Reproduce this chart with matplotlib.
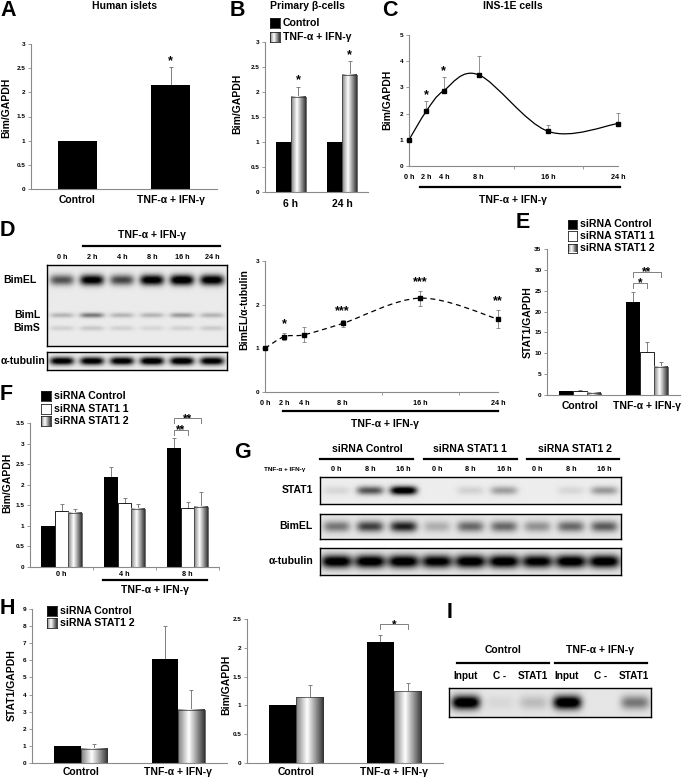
import numpy as np
import matplotlib
matplotlib.use('Agg')
import matplotlib.pyplot as plt
from matplotlib.path import Path
from matplotlib.patches import PathPatch
from matplotlib.lines import Line2D

plt.rcParams['font.family'] = ['Liberation Sans', 'DejaVu Sans']
plt.rcParams['font.weight'] = 'bold'

# ---------------- data ----------------
# A
a_groups = ['Control', 'TNF-α + IFN-γ']
a_vals = [1.0, 2.15]
a_errs = [0.0, 0.38]
a_stars = ['', '*']

# B
b_groups = ['6 h', '24 h']
b_series = ['Control', 'TNF-α + IFN-γ']
b_control = [1.0, 1.0]
b_tnf = [1.91, 2.35]
b_tnf_err = [0.2, 0.26]
b_stars = ['*', '*']

# C
c_hours = [0, 2, 4, 8, 16, 24]
c_vals = [1.0, 2.1, 2.88, 3.48, 1.32, 1.62]
c_errs = [0.0, 0.4, 0.52, 0.72, 0.26, 0.4]
c_stars = ['', '*', '*', '', '', '']
c_ticklabels = ['0 h', '2 h', '4 h', '8 h', '16 h', '24 h']

# D
d_lanes = ['0 h', '2 h', '4 h', '8 h', '16 h', '24 h']
d_bimel = [0.55, 0.92, 0.6, 0.95, 1.0, 0.95]
d_biml = [0.2, 0.42, 0.2, 0.2, 0.3, 0.2]
d_bims = [0.1, 0.13, 0.1, 0.08, 0.1, 0.12]
d_tubulin = [0.95, 0.95, 0.95, 1.0, 1.0, 0.95]
d_hours = [0, 2, 4, 8, 16, 24]
d_vals = [1.0, 1.27, 1.31, 1.57, 2.15, 1.67]
d_errs = [0.0, 0.09, 0.17, 0.07, 0.17, 0.2]
d_stars = ['', '*', '', '***', '***', '**']

# E
e_groups = ['Control', 'TNF-α + IFN-γ']
sirna3 = ['siRNA Control', 'siRNA STAT1 1', 'siRNA STAT1 2']
e_ctrl = [1.0, 22.2]
e_s1 = [1.0, 10.4]
e_s2 = [0.5, 6.8]
e_ctrl_err = [0.0, 2.6]
e_s1_err = [0.2, 2.4]
e_s2_err = [0.0, 1.2]

# F
f_groups = ['0 h', '4 h', '8 h']
f_ctrl = [1.0, 2.19, 2.89]
f_s1 = [1.37, 1.56, 1.44]
f_s2 = [1.32, 1.42, 1.47]
f_ctrl_err = [0.0, 0.25, 0.24]
f_s1_err = [0.16, 0.11, 0.15]
f_s2_err = [0.1, 0.12, 0.36]

# G
g_groups = sirna3
g_lanes = ['0 h', '8 h', '16 h'] * 3
g_stat1 = [0.08, 0.55, 1.0, 0.0, 0.1, 0.28, 0.0, 0.08, 0.3]
g_bimel = [0.4, 0.6, 0.72, 0.2, 0.45, 0.45, 0.3, 0.45, 0.5]
g_tub = [0.95, 0.95, 0.95, 0.9, 0.95, 0.95, 0.9, 0.95, 0.95]

# H
h_groups = ['Control', 'TNF-α + IFN-γ']
h_series = ['siRNA Control', 'siRNA STAT1 2']
h_stat1_ctrl = [1.0, 6.1]
h_stat1_s2 = [0.83, 3.12]
h_stat1_ctrl_err = [0.0, 1.9]
h_stat1_s2_err = [0.27, 1.13]
h_bim_ctrl = [1.0, 2.1]
h_bim_s2 = [1.14, 1.25]
h_bim_ctrl_err = [0.0, 0.12]
h_bim_s2_err = [0.21, 0.14]

# I
i_groups = ['Control', 'TNF-α + IFN-γ']
i_lanes = ['Input', 'C -', 'STAT1', 'Input', 'C -', 'STAT1']
i_band = [1.0, 0.05, 0.15, 1.0, 0.0, 0.4]

TREAT = 'TNF-α + IFN-γ'

# ---------------- helpers ----------------
W, H = 685, 779
fig = plt.figure(figsize=(W / 100, H / 100), dpi=100)
fig.patch.set_facecolor('white')

GRAD = np.interp(np.linspace(0, 1, 64), [0, 0.4, 1], [0.5, 1.0, 0.2])[None, :]
AX_COL = '#8a8a8a'
ERR_COL = '#808080'
FS = 7.5      # labels
FS_Y = 7.5    # axis titles
FS_LEG = 7.6  # legends


def add_ax(l, t, r, b):
    return fig.add_axes([l / W, 1 - b / H, (r - l) / W, (b - t) / H])


def ftext(x, y, s, **kw):
    kw.setdefault('ha', 'center')
    kw.setdefault('va', 'center')
    fig.text(x / W, 1 - y / H, s, **kw)


def fline(x0, x1, y, lw=1.6, color='black'):
    fig.add_artist(Line2D([x0 / W, x1 / W], [1 - y / H] * 2, transform=fig.transFigure,
                          color=color, lw=lw))


def letter(x, y, s):
    ftext(x, y, s, ha='left', fontsize=15.5)


def style_axes(ax, ylim, yticks):
    ax.set_ylim(*ylim)
    ax.set_yticks(yticks, [f'{t:g}' for t in yticks])
    for s in ['top', 'right']:
        ax.spines[s].set_visible(False)
    for s in ['left', 'bottom']:
        ax.spines[s].set_color(AX_COL)
        ax.spines[s].set_linewidth(0.8)
    ax.tick_params(axis='y', labelsize=4.6, length=2.5, width=0.6, color=AX_COL, pad=1.5)
    ax.set_facecolor('none')


def draw_bar(ax, x, h, w, kind):
    if kind == 'black':
        ax.bar(x, h, w, color='black', zorder=2)
    elif kind == 'white':
        ax.bar(x, h, w, color='white', edgecolor='black', lw=0.6, zorder=2)
    else:
        ax.imshow(GRAD, extent=(x - w / 2, x + w / 2, 0, h), aspect='auto', cmap='gray',
                  vmin=0, vmax=1, zorder=2, interpolation='bilinear')
        ax.bar(x, h, w, fill=False, edgecolor='#333333', lw=0.5, zorder=3)


def bars(ax, series, errs, kinds, width):
    n = len(series)
    for j, (vals, ee, kind) in enumerate(zip(series, errs, kinds)):
        off = (j - (n - 1) / 2) * width
        for i, (v, e) in enumerate(zip(vals, ee)):
            draw_bar(ax, i + off, v, width, kind)
            if e > 0:
                ax.errorbar(i + off, v, yerr=[[0], [e]], fmt='none', ecolor=ERR_COL,
                            elinewidth=0.7, capsize=1.2, capthick=0.7, zorder=1)


def cat_xaxis(ax, labels, fs=FS, pad=4):
    ax.set_xticks(range(len(labels)), labels)
    ax.tick_params(axis='x', length=0, labelsize=fs, pad=pad)
    ax.set_xlim(-0.5, len(labels) - 0.5)


def bracket(ax, x1, x2, y, drop, txt, fs=8.5):
    ax.plot([x1, x1, x2, x2], [y - drop, y, y, y - drop], color=ERR_COL, lw=0.7,
            clip_on=False, zorder=4)
    ax.annotate(txt, ((x1 + x2) / 2, y), xytext=(0, -2.6), textcoords='offset points',
                ha='center', va='baseline', fontsize=fs, annotation_clip=False)


def legend(x, ys, kinds, labels, size=10, fs=FS_LEG):
    for y, k, lab in zip(ys, kinds, labels):
        a = add_ax(x, y - size / 2, x + size, y + size / 2)
        a.set_xticks([])
        a.set_yticks([])
        if k == 'grad':
            a.imshow(GRAD, aspect='auto', cmap='gray', vmin=0, vmax=1, interpolation='bilinear')
        else:
            a.set_facecolor(k)
        for s in a.spines.values():
            s.set_linewidth(0.6)
            s.set_color('#222222')
        ftext(x + size + 3, y, lab, ha='left', fontsize=fs)


def smooth_curve(ax, xs, ys, **kw):
    p = np.column_stack([xs, ys]).astype(float)
    n = len(p)
    verts = [p[0]]
    codes = [Path.MOVETO]
    for i in range(n - 1):
        p0 = p[max(i - 1, 0)]
        p1 = p[i]
        p2 = p[i + 1]
        p3 = p[min(i + 2, n - 1)]
        verts += [p1 + (p2 - p0) / 6, p2 - (p3 - p1) / 6, p2]
        codes += [Path.CURVE4] * 3
    ax.add_patch(PathPatch(Path(verts, codes), fill=False, **kw))


def blot(l, t, r, b, bands, bg=0.92, lane_half=0.4):
    """bands: (centre measured from the top as a fraction, thickness, lane intensities)"""
    ax = add_ax(l, t, r, b)
    n = len(bands[0][2])
    ny, nx = 80, n * 40
    xs = (np.arange(nx) + 0.5) / nx * n
    ys = (np.arange(ny) + 0.5) / ny
    dark = np.zeros((ny, nx))
    for yc, sy, ints in bands:
        prof_y = np.exp(-((ys - yc) / sy) ** 2)
        for i, a in enumerate(ints):
            prof_x = np.exp(-((xs - (i + 0.5)) / lane_half) ** 4)
            dark += a * np.outer(prof_y, prof_x)
    img = np.clip(bg - dark * 1.1, 0, 1)
    ax.imshow(img, extent=(0, n, 0, 1), origin='upper', aspect='auto', cmap='gray',
              vmin=0, vmax=1, interpolation='bilinear')
    ax.set_xlim(0, n)
    ax.set_ylim(0, 1)
    ax.set_xticks([])
    ax.set_yticks([])
    for s in ax.spines.values():
        s.set_linewidth(1.0)
    return ax


# ---------------- A ----------------
letter(0, 11, 'A')
ftext(124, 6, 'Human islets', fontsize=FS)
axA = add_ax(31, 44, 217, 189)
bars(axA, [a_vals], [a_errs], ['black'], 0.41)
style_axes(axA, (0, 3), [0, 0.5, 1, 1.5, 2, 2.5, 3])
cat_xaxis(axA, a_groups)
for i, s in enumerate(a_stars):
    if s:
        axA.text(i, a_vals[i] + a_errs[i] + 0.12, s, ha='center', va='center', fontsize=9)
ftext(6, 108, 'Bim/GAPDH', rotation=90, fontsize=FS_Y)

# ---------------- B ----------------
letter(230, 11, 'B')
ftext(270, 6, 'Primary β-cells', ha='left', fontsize=FS)
legend(270, [23, 37], ['black', 'grad'], b_series)
axB = add_ax(265, 42, 368, 192)
bars(axB, [b_control, b_tnf], [[0, 0], b_tnf_err], ['black', 'grad'], 0.29)
style_axes(axB, (0, 3), [0, 0.5, 1, 1.5, 2, 2.5, 3])
cat_xaxis(axB, b_groups, pad=5)
for i, s in enumerate(b_stars):
    axB.text(i + 0.145, b_tnf[i] + b_tnf_err[i] + 0.12, s, ha='center', va='center', fontsize=9)
ftext(237, 104, 'Bim/GAPDH', rotation=90, fontsize=FS_Y)

# ---------------- C ----------------
letter(382, 10, 'C')
ftext(513, 6, 'INS-1E cells', fontsize=FS)
axC = add_ax(409, 35, 618, 166)
style_axes(axC, (0, 5), [0, 1, 2, 3, 4, 5])
smooth_curve(axC, c_hours, c_vals, color='black', lw=0.9, zorder=2)
axC.errorbar(c_hours, c_vals, yerr=[[0] * len(c_errs), c_errs], fmt='none', ecolor=ERR_COL,
             elinewidth=0.6, capsize=1.2, capthick=0.6, zorder=1, clip_on=False)
axC.plot(c_hours, c_vals, 's', color='black', ms=2.6, zorder=3, clip_on=False)
for h, v, e, s in zip(c_hours, c_vals, c_errs, c_stars):
    if s:
        axC.text(h, v + e + 0.22, s, ha='center', va='center', fontsize=9)
axC.set_xlim(0, 24)
axC.set_xticks(c_hours, c_ticklabels)
axC.set_xticks(range(0, 25, 4), minor=True)
axC.tick_params(axis='x', which='major', length=0, labelsize=5.2, pad=6)
axC.tick_params(axis='x', which='minor', length=2.5, width=0.6, color=AX_COL)
ftext(387, 100, 'Bim/GAPDH', rotation=90, fontsize=FS_Y)
fline(420, 620, 187)
ftext(513, 200, TREAT, fontsize=FS)

# ---------------- D ----------------
letter(0, 230, 'D')
ftext(152, 235, TREAT, fontsize=FS)
fline(83, 220, 246)
blotD = blot(47, 265, 227, 346,
             [(0.185, 0.065, d_bimel), (0.62, 0.03, d_biml), (0.78, 0.03, d_bims)])
blotD.xaxis.tick_top()
blotD.set_xticks(np.arange(len(d_lanes)) + 0.5, d_lanes)
blotD.tick_params(axis='x', length=0, labelsize=5.2, pad=3)
blot(47, 352, 227, 370, [(0.5, 0.22, d_tubulin)])
ftext(20, 280, 'BimEL', fontsize=FS)
ftext(27, 315, 'BimL', fontsize=FS)
ftext(27, 328, 'BimS', fontsize=FS)
ftext(23, 361, 'α-tubulin', fontsize=FS)

axD = add_ax(265, 261, 498, 392)
style_axes(axD, (0, 3), [0, 1, 2, 3])
smooth_curve(axD, d_hours, d_vals, color='black', lw=0.9, ls=(0, (4, 3)), zorder=2)
axD.errorbar(d_hours, d_vals, yerr=d_errs, fmt='none', ecolor=ERR_COL,
             elinewidth=0.6, capsize=1.2, capthick=0.6, zorder=1, clip_on=False)
axD.plot(d_hours, d_vals, 's', color='black', ms=2.6, zorder=3, clip_on=False)
for h, v, e, s in zip(d_hours, d_vals, d_errs, d_stars):
    if s:
        axD.text(h, v + e + 0.2, s, ha='center', va='center', fontsize=9)
axD.set_xlim(0, 24)
axD.set_xticks(d_hours, d_lanes)
axD.set_xticks(range(0, 25, 4), minor=True)
axD.tick_params(axis='x', which='major', length=0, labelsize=5.2, pad=6)
axD.tick_params(axis='x', which='minor', length=2.5, width=0.6, color=AX_COL)
ftext(244, 310, 'BimEL/α-tubulin', rotation=90, fontsize=FS_Y)
fline(283, 498, 411)
ftext(385, 424, TREAT, fontsize=FS)

# ---------------- E ----------------
letter(516, 223, 'E')
legend(568, [224, 236, 248], ['black', 'white', 'grad'], sirna3, size=9)
axE = add_ax(547, 249, 680, 395)
bars(axE, [e_ctrl, e_s1, e_s2], [e_ctrl_err, e_s1_err, e_s2_err],
     ['black', 'white', 'grad'], 0.21)
style_axes(axE, (0, 35), [0, 5, 10, 15, 20, 25, 30, 35])
cat_xaxis(axE, e_groups, pad=4)
bracket(axE, 1 - 0.21, 1.0, 26.9, 1.3, '*')
bracket(axE, 1 - 0.21, 1 + 0.21, 29.5, 1.3, '**')
ftext(528, 322, 'STAT1/GAPDH', rotation=90, fontsize=FS_Y)

# ---------------- F ----------------
letter(0, 395, 'F')
legend(41, [396, 409, 421], ['black', 'white', 'grad'], sirna3)
axF = add_ax(30, 423, 219, 567)
bars(axF, [f_ctrl, f_s1, f_s2], [f_ctrl_err, f_s1_err, f_s2_err],
     ['black', 'white', 'grad'], 0.222)
style_axes(axF, (0, 3.5), [0, 0.5, 1, 1.5, 2, 2.5, 3, 3.5])
cat_xaxis(axF, f_groups, fs=5.2, pad=3)
axF.set_xticks([0.5, 1.5, 2.5], minor=True)
axF.tick_params(axis='x', which='minor', length=2.5, width=0.6, color=AX_COL)
bracket(axF, 2 - 0.222, 2.0, 3.33, 0.12, '**')
bracket(axF, 2 - 0.222, 2 + 0.222, 3.62, 0.12, '**')
ftext(7, 483, 'Bim/GAPDH', rotation=90, fontsize=FS_Y)
fline(103, 207, 580)
ftext(155, 590, TREAT, fontsize=FS)

# ---------------- G ----------------
letter(234, 453, 'G')
for (c, x0, x1), g in zip([(367, 320, 413), (470, 424, 517), (575, 527, 619)], g_groups):
    ftext(c, 449, g, fontsize=FS)
    fline(x0, x1, 459)
blotG = blot(320, 477, 621, 504, [(0.5, 0.16, g_stat1)], bg=0.93)
blotG.xaxis.tick_top()
blotG.set_xticks(np.arange(len(g_lanes)) + 0.5, g_lanes)
blotG.tick_params(axis='x', length=0, labelsize=5.2, pad=3)
ftext(285, 469, TREAT, fontsize=4.6)
blot(320, 514, 621, 539, [(0.5, 0.22, g_bimel)], bg=0.9)
blot(320, 548, 621, 575, [(0.5, 0.24, g_tub)], bg=0.9, lane_half=0.46)
ftext(313, 490, 'STAT1', ha='right', fontsize=FS)
ftext(313, 526, 'BimEL', ha='right', fontsize=FS)
ftext(313, 561, 'α-tubulin', ha='right', fontsize=FS)

# ---------------- H ----------------
letter(0, 608, 'H')
legend(47, [611, 623], ['black', 'grad'], h_series)
axH1 = add_ax(32, 609, 227, 763)
bars(axH1, [h_stat1_ctrl, h_stat1_s2], [h_stat1_ctrl_err, h_stat1_s2_err],
     ['black', 'grad'], 0.27)
style_axes(axH1, (0, 9), list(range(10)))
cat_xaxis(axH1, h_groups, pad=3)
ftext(12, 685, 'STAT1/GAPDH', rotation=90, fontsize=FS_Y)

axH2 = add_ax(247, 619, 443, 763)
bars(axH2, [h_bim_ctrl, h_bim_s2], [h_bim_ctrl_err, h_bim_s2_err],
     ['black', 'grad'], 0.28)
style_axes(axH2, (0, 2.5), [0, 0.5, 1, 1.5, 2, 2.5])
cat_xaxis(axH2, h_groups, pad=3)
bracket(axH2, 1 - 0.14, 1 + 0.14, 2.41, 0.08, '*')
ftext(226, 685, 'Bim/GAPDH', rotation=90, fontsize=FS_Y)

# ---------------- I ----------------
letter(447, 613, 'I')
ftext(503, 650, i_groups[0], fontsize=FS)
fline(457, 549, 663)
ftext(600, 650, i_groups[1], fontsize=FS)
fline(555, 647, 663)
blotI = blot(449, 688, 651, 717, [(0.5, 0.24, i_band)], bg=0.9, lane_half=0.42)
blotI.xaxis.tick_top()
blotI.set_xticks(np.arange(len(i_lanes)) + 0.5, i_lanes)
blotI.tick_params(axis='x', length=0, labelsize=7.2, pad=5)

fig.savefig('out.png', dpi=100, facecolor='white')
